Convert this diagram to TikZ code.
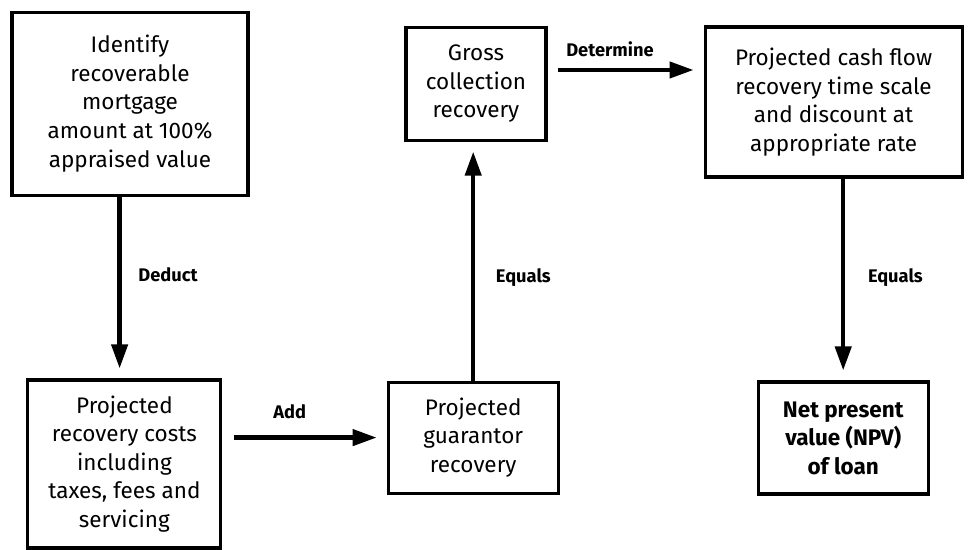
\documentclass[tikz,border=0pt]{standalone}
\usepackage{fontspec}
\setmainfont{Fira Sans}
\usetikzlibrary{arrows.meta,positioning}
\tikzset{
  box/.style={draw,line width=2.2pt,align=center,inner sep=3pt,
    font=\fontsize{16}{20.3}\selectfont},
  npvbox/.style={box,font=\fontsize{16}{20.3}\selectfont\bfseries},
  flow/.style={-{Triangle[length=6mm,width=4mm]},line width=3pt,shorten >=2.5mm},
  lbl/.style={font=\fontsize{13}{15}\selectfont\bfseries}
}

\begin{document}
\begin{tikzpicture}
\useasboundingbox (0,0) rectangle (24.3,13.75);
% boxes
\node[box,minimum width=5.9cm,minimum height=4.575cm] (ident) at (3.25,11.16)
  {Identify\\recoverable\\mortgage\\amount at 100\%\\appraised value};
\node[box,minimum width=4.825cm,minimum height=4.2cm] (costs) at (3.11,2.15)
  {Projected\\recovery costs\\including\\taxes, fees and\\servicing};
\node[box,minimum width=4.25cm,minimum height=2.775cm] (guar) at (11.83,2.81)
  {Projected\\guarantor\\recovery};
\node[box,minimum width=3.5cm,minimum height=2.825cm] (gross) at (11.9,11.66)
  {Gross\\collection\\recovery};
\node[box,minimum width=6.425cm,minimum height=3.75cm] (cash) at (20.84,11.2)
  {Projected cash flow\\recovery time scale\\and discount at\\appropriate rate};
\node[npvbox,minimum width=4.25cm,minimum height=2.8cm] (npv) at (21.08,2.8)
  {Net present\\value (NPV)\\of loan};

% connectors
\draw[flow] ([xshift=-2.6mm]ident.south) -- node[lbl,pos=0.43,right=3mm]{Deduct}
  ([xshift=-2.6mm]ident.south |- costs.north);
\draw[flow,shorten <=3mm] (costs.east |- guar.west) -- node[lbl,pos=0.41,above=3mm]{Add} (guar.west);
\draw[flow] (guar.north) -- node[lbl,pos=0.43,right=4mm]{Equals} (guar.north |- gross.south);
\draw[flow,shorten <=2.5mm] ([yshift=3.4mm]gross.east) -- node[lbl,pos=0.4,above=1.5mm]{Determine}
  ([yshift=3.4mm]gross.east -| cash.west);
\draw[flow] (npv.north |- cash.south) -- node[lbl,pos=0.49,right=4.5mm]{Equals} (npv.north);
\end{tikzpicture}
\end{document}
